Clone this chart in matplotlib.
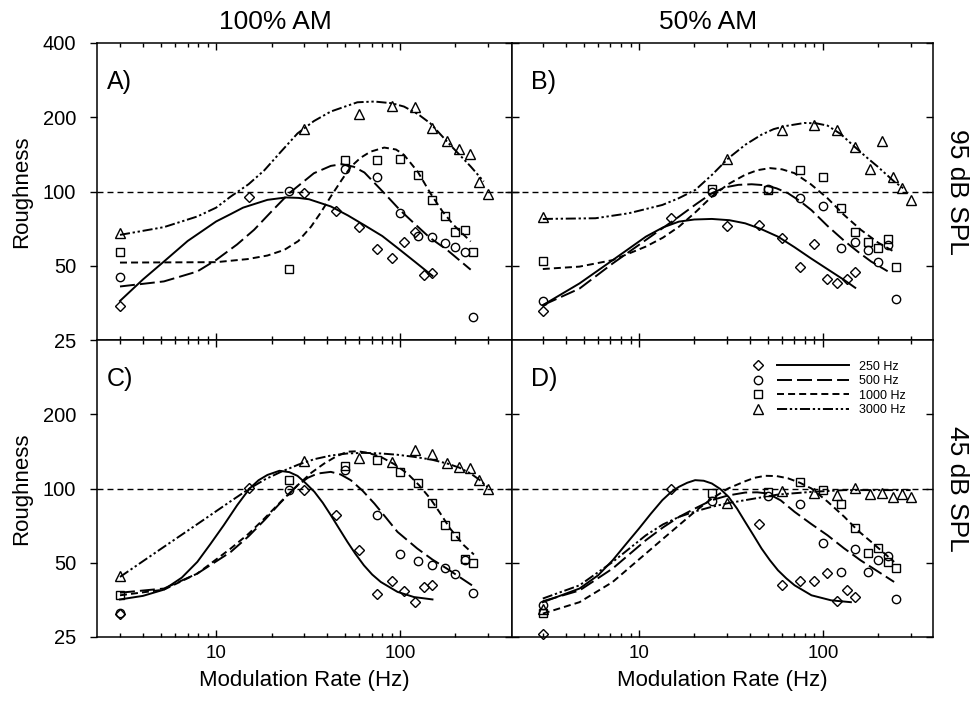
import matplotlib.pyplot as plt
from matplotlib.lines import Line2D
from matplotlib.ticker import FixedLocator, NullLocator, NullFormatter, FuncFormatter

plt.rcParams['font.family'] = ['Liberation Sans', 'DejaVu Sans']

# modulation rates used with each carrier (Hz)
rate_250 = [3, 15, 30, 45, 60, 75, 90, 105, 120, 135, 150]
rate_500 = [3, 25, 50, 75, 100, 125, 150, 175, 200, 225, 250]
rate_1000 = [3, 25, 50, 75, 100, 125, 150, 175, 200, 225, 250]
rate_3000 = [3, 30, 60, 90, 120, 150, 180, 210, 240, 270, 300]

# A) 100% AM, 95 dB SPL
a_250 = [34.2, 95.4, 98.5, 83.7, 71.7, 58.4, 53.7, 62.7, 68.2, 45.9, 46.7]
a_500 = [45.2, 100.6, 123, 114, 81.7, 65.7, 65.1, 61.7, 59.5, 57.1, 30.9]
a_1000 = [57.0, 48.7, 134, 134, 136, 116.5, 92.5, 79.2, 68.2, 69.9, 57.1]
a_3000 = [67.8, 179, 206, 222.5, 221, 181, 159.5, 148.5, 142, 109, 97.9]

# B) 50% AM, 95 dB SPL
b_250 = [32.8, 77.9, 72.5, 73.2, 65, 49.5, 61.1, 44.1, 42.4, 44.1, 47.3]
b_500 = [36.0, 99.4, 102, 94, 87.7, 58.8, 62.2, 57.9, 51.6, 60.7, 36.6]
b_1000 = [52.4, 102, 101.6, 121.7, 114.4, 86.1, 68.8, 62.6, 59.2, 64.0, 49.2]
b_3000 = [79.1, 135, 177, 186.7, 178, 151.5, 123.3, 159.7, 114.4, 103.8, 92.5]

# C) 100% AM, 45 dB SPL
c_250 = [31.1, 100.6, 98.5, 78, 56.2, 37.5, 42.0, 38.3, 34.7, 39.9, 40.8]
c_500 = [31.4, 98.5, 119.4, 78, 54.5, 50.9, 48.9, 47.4, 44.9, 51.5, 37.8]
c_1000 = [36.9, 108, 123.6, 130, 116.9, 105.4, 87.5, 71, 64.0, 52.0, 49.9]
c_3000 = [44.1, 129, 133, 127.5, 143, 137.4, 127.1, 121.7, 121.3, 108, 100]

# D) 50% AM, 45 dB SPL (no 30 Hz point for the 250 Hz carrier)
d_250 = [25.8, 100, float('nan'), 72.1, 40.5, 42.2, 42.0, 45.6, 35.0, 38.9, 36.4]
d_500 = [33.6, 88.8, 93.4, 86.4, 60.4, 45.9, 56.7, 45.9, 51.5, 53.1, 35.5]
d_1000 = [31.4, 96, 97, 105.8, 98.5, 86.9, 69.4, 55, 57.4, 50.4, 47.4]
d_3000 = [32.6, 87.5, 97.5, 96.3, 94.5, 100.6, 95.4, 96.3, 92.5, 95.4, 92.5]

# fitted functions, as (rate, roughness) knots
fit_a_250 = [(3, 36), (4, 44), (5.2, 52), (7, 63), (10, 75.6), (12, 81), (14, 86), (19, 92.5),
             (24, 94.6), (28, 94.2), (32, 93), (42, 87), (52, 80), (64, 73), (80, 66),
             (97, 59), (120, 52), (150, 45.5)]
fit_a_500 = [(3, 41.2), (5.2, 43.2), (7.9, 47.4), (10, 52.8), (13, 61), (16.1, 70), (20, 83),
             (25, 98.5), (34, 118.6), (42, 127), (48, 129), (56, 126), (64, 119.4), (82, 98.5),
             (100, 84), (119, 74.4), (145, 65), (180, 58), (242, 48.2)]
fit_a_1000 = [(3, 51.5), (10, 51.7), (14.8, 53.2), (19, 55), (23.5, 58), (28, 63),
              (32.8, 72), (37, 82), (42, 95.4), (48, 111), (54, 126), (61, 137), (69, 145),
              (82, 150.7), (95, 148), (105, 140.8), (125, 120), (146, 98.5), (170, 83),
              (196, 73), (242, 62.7)]
fit_a_3000 = [(3, 66.7), (5.2, 71.7), (7.9, 79.2), (10, 86), (12, 95.4), (15, 107),
              (18.3, 122), (22.5, 145), (27.7, 172), (34, 193), (42, 211), (58.6, 230),
              (72.5, 231.6), (90, 228), (105, 221), (125, 206), (146, 189), (187, 154.6),
              (242, 126.3), (285, 109.8)]

fit_b_250 = [(3, 34.6), (4.75, 42.4), (7.2, 52.7), (10.9, 65.6), (13.5, 71.5), (16.5, 75.5),
             (20, 77), (24.9, 77.4), (31, 76.5), (37.8, 74.3), (46, 70.5), (57, 65.6),
             (70, 59.5), (86, 53.6), (107, 48.2), (131, 43.7), (150, 40.7)]
fit_b_500 = [(3, 34.6), (4.75, 40.4), (7.2, 51.1), (10.9, 63.6), (16.5, 79.1), (20.5, 89),
             (24.9, 98.4), (29.5, 104), (34.7, 106.4), (41, 107), (48.5, 106), (56, 103),
             (64.6, 98.4), (75, 91.5), (86.7, 84), (106, 72.5), (131, 63), (155, 57),
             (183, 52), (225, 47.5)]
fit_b_1000 = [(3, 48.5), (4.75, 49.6), (7.2, 52.7), (10.9, 59.8), (13.5, 65), (16.5, 72),
              (20.5, 83), (24.9, 95.4), (30.5, 107), (37.8, 116.9), (44, 122), (51.6, 124.4),
              (60, 123), (70, 118.7), (86, 107), (106, 93.9), (130, 80.5), (161, 69.9),
              (200, 62), (244, 57)]
fit_b_3000 = [(3, 77.4), (5.8, 77.9), (8.8, 81.6), (13.4, 88.2), (16.5, 94), (20.3, 101.6),
              (25, 117), (30.7, 136.6), (38, 155), (46.4, 170), (54, 179), (62, 184),
              (79.3, 189.6), (92, 189), (106, 185), (125, 171), (148, 152.4), (172, 138),
              (198, 126.4), (244, 109.8), (281, 101.6)]

fit_c_250 = [(3, 35.5), (4, 36.7), (5.2, 38.9), (6.5, 43.5), (7.9, 50.4), (9.3, 59.5),
             (11, 71), (13, 85.5), (15.2, 100), (17, 108), (19, 113.5), (22.1, 118),
             (25, 116.5), (27.7, 112.5), (30.5, 105.5), (34.2, 97), (38, 87.5), (42, 78),
             (46.5, 69), (51.7, 60.8), (57, 54.5), (63.6, 48.8), (70.5, 44.8), (78.5, 41.8),
             (96.8, 38.1), (119, 36.3), (150, 35.5)]
fit_c_500 = [(3, 37.8), (5.2, 39.3), (7.9, 45.2), (12, 55.3), (15, 64), (18.3, 74.4),
             (22.5, 88), (27.7, 103), (31.5, 110.5), (35.6, 115), (42, 116.8), (47.5, 114),
             (54, 108), (62.5, 98), (72.5, 86.9), (84, 76), (96.8, 66.7), (124, 57.1),
             (150, 51.5), (180, 47.3), (246, 40.5)]
fit_c_1000 = [(3, 36.9), (5.2, 38.9), (7.9, 45.2), (12, 57.1), (15, 65.5), (18.3, 75.6),
              (22.5, 88.5), (27.7, 103), (33, 116), (38.7, 126.3), (45, 135), (51.7, 141),
              (58.6, 141.6), (67, 139.5), (78.5, 134.4), (93, 125.5), (109.7, 115),
              (127, 103), (146, 91), (166, 79), (187, 68.8), (222, 58.9), (252, 54)]
fit_c_3000 = [(3, 43.8), (5.2, 58), (7.9, 71.7), (12, 88.8), (15.2, 100), (18.5, 109),
              (22.5, 116.8), (28, 125), (34.2, 131.5), (42, 136), (51.7, 138.7), (64, 139.5),
              (78.5, 138.7), (97, 137), (119, 134.4), (148, 131), (180, 126.3), (210, 121.5),
              (242, 115), (270, 108.5), (298, 101.6)]

fit_d_250 = [(3, 34.6), (4.75, 39.3), (6, 44.5), (7.2, 51.2), (8.5, 59.5), (10, 68.8),
             (11.6, 79), (13.4, 89.7), (14.9, 96.5), (16.5, 101.6), (18.3, 105.5),
             (20.2, 108.1), (22.5, 107.5), (24.9, 104.8), (27.7, 99.5), (30.7, 92.5),
             (34.1, 83), (37.8, 73.2), (42, 64.5), (46.4, 57.1), (51.5, 51.2), (57, 46.6),
             (63.3, 43.2), (70.2, 40.5), (86.7, 36.9), (111, 35.2), (142, 34.6)]
fit_d_500 = [(3, 34.9), (4.75, 38.6), (7.2, 47.4), (10.9, 61.7), (13.5, 69.5), (16.5, 76.7),
             (20.5, 83.5), (24.9, 89.7), (30.5, 93.7), (37.8, 96.3), (44, 96.5), (50.3, 95.4),
             (59, 89.5), (70.2, 80.4), (86, 72), (106, 64.6), (130, 57.3), (160, 51.2),
             (200, 46), (244, 41.8)]
fit_d_1000 = [(3, 31.1), (4.75, 34.6), (7.2, 41.8), (10.9, 54.5), (13.5, 62.5), (16.5, 71),
              (20.5, 81.5), (24.9, 91), (30.5, 100), (37.8, 107), (42.5, 110.5), (48.5, 112.6),
              (56, 112.3), (64.6, 110), (75, 105.5), (86.7, 100), (106, 88.5), (131, 76.7),
              (155, 67.5), (183, 60.8), (244, 50.4)]
fit_d_3000 = [(3, 35.8), (4.75, 40.5), (7.2, 50.4), (10.9, 64.6), (13.5, 71.5), (16.5, 76.7),
              (20.5, 81), (24.9, 84.3), (30.5, 87.2), (37.8, 89.7), (57, 94.5), (86.7, 96.9),
              (131, 98.5), (198, 98.5), (300, 98.5)]

carriers = ['250 Hz', '500 Hz', '1000 Hz', '3000 Hz']
rates = [rate_250, rate_500, rate_1000, rate_3000]
markers = ['D', 'o', 's', '^']
msizes = [4.8, 6.0, 5.4, 7.0]
LW = 1.4
styles = ['-', (0, (7.7, 2.6)), (0, (3.6, 2.1)), (0, (5.2, 1.4, 1.2, 1.4, 1.2, 1.4))]

panels = [
    ('A)', [a_250, a_500, a_1000, a_3000], [fit_a_250, fit_a_500, fit_a_1000, fit_a_3000]),
    ('B)', [b_250, b_500, b_1000, b_3000], [fit_b_250, fit_b_500, fit_b_1000, fit_b_3000]),
    ('C)', [c_250, c_500, c_1000, c_3000], [fit_c_250, fit_c_500, fit_c_1000, fit_c_3000]),
    ('D)', [d_250, d_500, d_1000, d_3000], [fit_d_250, fit_d_500, fit_d_1000, fit_d_3000]),
]

W, H = 979, 707
fig = plt.figure(figsize=(W / 100, H / 100), dpi=100)
boxes = [(97, 43, 415), (512, 43, 421), (97, 340, 415), (512, 340, 421)]
xlims = [(2.25, 406), (2.04, 397), (2.25, 406), (2.04, 397)]
axes = []
for (x0, y0, w) in boxes:
    axes.append(fig.add_axes([x0 / W, 1 - (y0 + 297) / H, w / W, 297 / H]))

fmt = FuncFormatter(lambda v, p: '%g' % v)


class MarkerThenLine:
    # legend entry: open symbol on the left, line sample to its right
    def legend_artist(self, legend, orig_handle, fontsize, handlebox):
        x0, y0 = handlebox.xdescent, handlebox.ydescent
        w, h = handlebox.width, handlebox.height
        ym = y0 + h / 2
        mk = Line2D([x0 + 0.06 * w], [ym])
        mk.update_from(orig_handle)
        mk.set_linestyle('None')
        ln = Line2D([x0 + 0.25 * w, x0 + w], [ym, ym])
        ln.update_from(orig_handle)
        ln.set_marker('None')
        for a in (mk, ln):
            a.set_transform(handlebox.get_transform())
            handlebox.add_artist(a)
        return ln


for i, (ax, (letter, series, fits)) in enumerate(zip(axes, panels)):
    left_col = i % 2 == 0
    top_row = i < 2
    ax.set_xscale('log')
    ax.set_yscale('log')

    ax.axhline(100, color='k', lw=1.0, ls=(0, (4.3, 2.9)), zorder=1)
    for k in range(4):
        fx = [p[0] for p in fits[k]]
        fy = [p[1] for p in fits[k]]
        ax.plot(fx, fy, color='k', lw=LW, ls=styles[k], zorder=2)
        ax.plot(rates[k], series[k], ls='none', marker=markers[k], ms=msizes[k],
                mfc='none', mec='k', mew=1.0, zorder=3, clip_on=False)

    ax.set_xlim(*xlims[i])
    ax.set_ylim(25, 400)

    ax.xaxis.set_major_locator(FixedLocator([10, 100]))
    ax.xaxis.set_minor_locator(FixedLocator([3, 4, 5, 6, 7, 8, 9, 20, 30, 40, 50,
                                             60, 70, 80, 90, 200, 300]))
    ax.xaxis.set_major_formatter(fmt)
    ax.xaxis.set_minor_formatter(NullFormatter())
    ax.tick_params(axis='x', which='both', direction='in', top=True, bottom=True,
                   labelsize=13.5, pad=6, width=1)
    ax.tick_params(axis='x', which='major', length=5)
    ax.tick_params(axis='x', which='minor', length=3)
    if top_row:
        ax.tick_params(axis='x', labelbottom=False)
    else:
        ax.set_xlabel('Modulation Rate (Hz)', fontsize=16)
        ax.xaxis.set_label_coords(0.5, -0.112)

    yt = [25, 50, 100, 200, 400] if top_row else [25, 50, 100, 200]
    ax.yaxis.set_major_locator(FixedLocator(yt))
    ax.yaxis.set_minor_locator(NullLocator())
    ax.yaxis.set_major_formatter(fmt)
    if left_col:
        ax.tick_params(axis='y', direction='out', left=True, right=False, length=5,
                       width=1, labelsize=14.5, pad=10)
        ax.set_ylabel('Roughness', fontsize=16)
        ax.yaxis.set_label_coords(-0.157, 0.5)
        sec = ax.secondary_yaxis('right')
        sec.yaxis.set_major_locator(FixedLocator(yt))
        sec.yaxis.set_minor_locator(NullLocator())
        sec.tick_params(axis='y', direction='in', length=5, width=1, labelright=False)
    else:
        ax.tick_params(axis='y', direction='in', left=True, right=True, length=5,
                       width=1, labelleft=False)

    for s in ax.spines.values():
        s.set_linewidth(1.1)

    ax.text(0.024 if left_col else 0.045, 0.87, letter, transform=ax.transAxes,
            fontsize=18, va='center', ha='left')

axes[0].text(0.43, 1.07, '100% AM', transform=axes[0].transAxes, fontsize=19,
             ha='center', va='center')
axes[1].text(0.466, 1.07, '50% AM', transform=axes[1].transAxes, fontsize=19,
             ha='center', va='center')
axes[1].text(1.057, 0.5, '95 dB SPL', transform=axes[1].transAxes, fontsize=19,
             rotation=270, ha='center', va='center')
axes[3].text(1.057, 0.5, '45 dB SPL', transform=axes[3].transAxes, fontsize=19,
             rotation=270, ha='center', va='center')

handles = [Line2D([], [], color='k', lw=LW, ls=styles[k], marker=markers[k], ms=msizes[k],
                  mfc='none', mec='k', mew=1.0) for k in range(4)]
axes[3].legend(handles, carriers, handler_map={Line2D: MarkerThenLine()},
               loc='upper right', bbox_to_anchor=(0.935, 0.93), frameon=False,
               fontsize=9, handlelength=7.7, handletextpad=0.8, labelspacing=0.2,
               borderpad=0, borderaxespad=0)

fig.savefig('out.png', dpi=100)
